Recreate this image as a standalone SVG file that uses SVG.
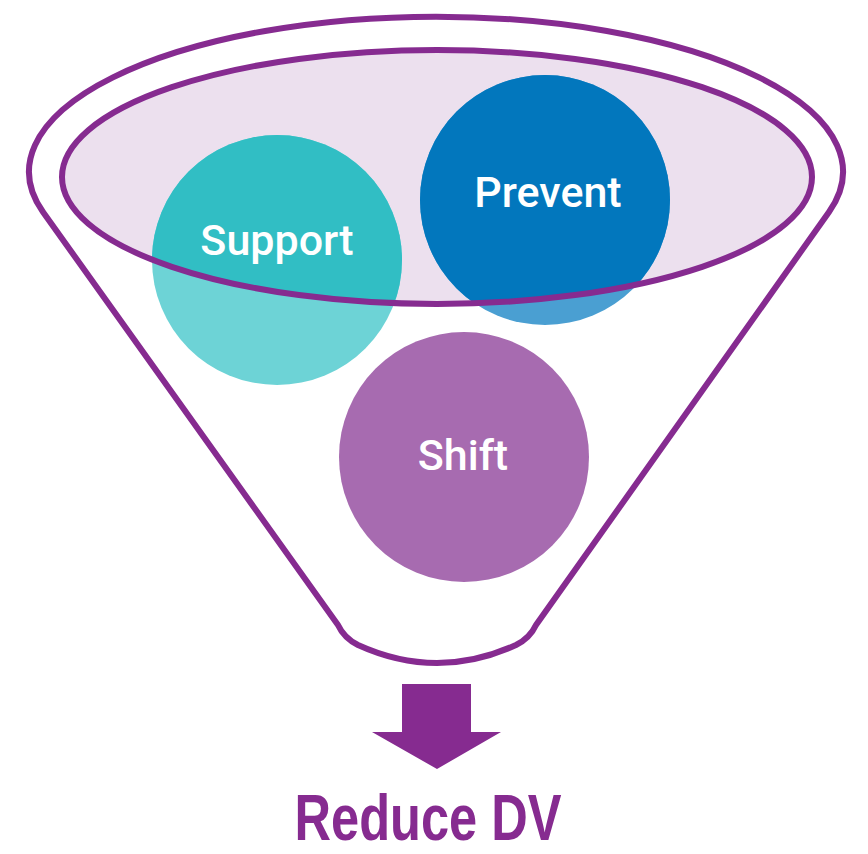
<svg xmlns="http://www.w3.org/2000/svg" width="868" height="854" viewBox="0 0 868 854">
<defs>
<style>
.ol{fill:none;stroke:#862b90;stroke-width:6;stroke-linejoin:round}
.lbl{font-family:Roboto,"Liberation Sans",sans-serif;font-weight:500;font-size:43px;fill:#fff;text-anchor:middle}
</style>
<clipPath id="inner"><ellipse cx="437" cy="177" rx="375" ry="127"/></clipPath>
</defs>
<rect width="868" height="854" fill="#fff"/>
<g id="funnel">
<path class="ol" d="M 43 212 A 407 155 0 1 1 829 212 L 536 625 Q 530 638 516 645 Q 437 681 358 645 Q 344 638 338 625 Z"/>
<ellipse cx="437" cy="177" rx="375" ry="127" fill="#ece0ee"/>
</g>
<g id="support">
<circle cx="277" cy="260" r="125" fill="#6dd3d6"/>
<circle cx="277" cy="260" r="125" fill="#31bec4" clip-path="url(#inner)"/>
<text class="lbl" x="277" y="255">Support</text>
</g>
<g id="prevent">
<circle cx="545" cy="200" r="125" fill="#4a9fd2"/>
<circle cx="545" cy="200" r="125" fill="#0277bd" clip-path="url(#inner)"/>
<text class="lbl" x="548" y="207">Prevent</text>
</g>
<g id="inner-rim">
<ellipse class="ol" cx="437" cy="177" rx="375" ry="127"/>
</g>
<g id="shift">
<circle cx="464" cy="457" r="125" fill="#a76bb0"/>
<text class="lbl" x="463" y="470">Shift</text>
</g>
<g id="arrow">
<path d="M 402 684 H 471 V 732 H 501 L 437 769 L 372 732 H 402 Z" fill="#862b90"/>
</g>
<g id="result">
<text x="428" y="840" font-family="'Liberation Sans',sans-serif" font-weight="bold" font-size="64" fill="#862b90" text-anchor="middle" textLength="267" lengthAdjust="spacingAndGlyphs">Reduce DV</text>
</g>
</svg>
